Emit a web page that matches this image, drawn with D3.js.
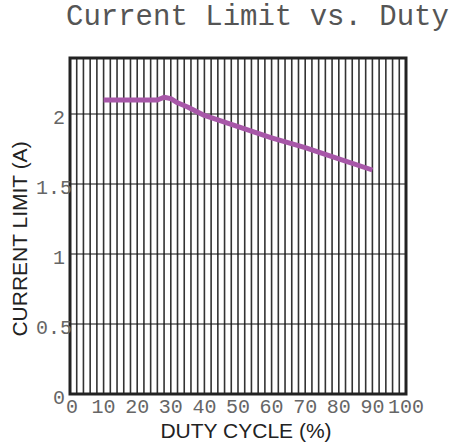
<!DOCTYPE html>
<html>
<head>
<meta charset="utf-8">
<script src="https://cdn.jsdelivr.net/npm/d3@7"></script>
<style>
  body { margin: 0; background: #fff; }
  svg { display: block; }
</style>
</head>
<body>
<svg id="chart" width="451" height="444"></svg>
<script>
var dutyCycle = [10, 20, 26, 28, 30, 32, 35, 40, 50, 60, 70, 80, 90];
var currentLimit = [2.1, 2.1, 2.1, 2.12, 2.11, 2.08, 2.05, 1.99, 1.91, 1.83, 1.76, 1.68, 1.6];
var xTicks = [0, 10, 20, 30, 40, 50, 60, 70, 80, 90, 100];
var yTicks = [0, 0.5, 1, 1.5, 2];

var width = 451,
    height = 444,
    margin = {top: 58, right: 45, bottom: 50, left: 70},
    contentWidth = width - margin.left - margin.right,
    contentHeight = height - margin.top - margin.bottom;

var svg = d3.select("#chart");

var x = d3.scaleLinear().domain([0, 100]).range([0, contentWidth]);
var y = d3.scaleLinear().domain([0, 2.4]).range([contentHeight, 0]);

var vis = svg.append("g")
  .attr("transform", "translate(" + margin.left + "," + margin.top + ")");

// title (clipped at the right edge in the original)
svg.append("text")
  .attr("x", 66)
  .attr("y", 25)
  .style("font-family", "'Liberation Mono', 'Courier New', monospace")
  .style("font-size", "29px")
  .style("fill", "#555")
  .text("Current Limit vs. Duty");

// vertical grid, every 2 %
vis.append("g").selectAll("line")
  .data(d3.range(2, 100, 2))
  .enter().append("line")
  .attr("x1", function(d) { return x(d); })
  .attr("x2", function(d) { return x(d); })
  .attr("y1", 0)
  .attr("y2", contentHeight)
  .style("stroke", "#333")
  .style("stroke-width", 1.6);

// horizontal grid
vis.append("g").selectAll("line")
  .data(yTicks.slice(1))
  .enter().append("line")
  .attr("x1", 0)
  .attr("x2", contentWidth)
  .attr("y1", function(d) { return y(d); })
  .attr("y2", function(d) { return y(d); })
  .style("stroke", "#111")
  .style("stroke-width", 1.2);

// data line
vis.append("path")
  .datum(d3.zip(dutyCycle, currentLimit))
  .attr("d", d3.line()
    .x(function(d) { return x(d[0]); })
    .y(function(d) { return y(d[1]); }))
  .style("fill", "none")
  .style("stroke", "#a757a8")
  .style("stroke-width", 5)
  .style("stroke-linejoin", "round");

// frame
vis.append("rect")
  .attr("width", contentWidth)
  .attr("height", contentHeight)
  .style("fill", "none")
  .style("stroke", "#222")
  .style("stroke-width", 3);

var tickFont = "'Liberation Mono', 'Courier New', monospace";

// y tick labels
vis.append("g").selectAll("text")
  .data(yTicks)
  .enter().append("text")
  .attr("x", function(d) { return d % 1 ? 2 : -5; })
  .attr("y", function(d) { return y(d) + 3; })
  .attr("dy", "0.35em")
  .style("text-anchor", "end")
  .style("font-family", tickFont)
  .style("font-size", "20px")
  .style("fill", "#666")
  .text(function(d) { return d; });

// x tick labels
vis.append("g").selectAll("text")
  .data(xTicks)
  .enter().append("text")
  .attr("x", function(d) { return x(d) + (d === 0 ? 2 : 0); })
  .attr("y", contentHeight + 12)
  .attr("dy", "0.35em")
  .style("text-anchor", "middle")
  .style("font-family", tickFont)
  .style("font-size", "20px")
  .style("fill", "#666")
  .text(function(d) { return d; });

// axis labels
svg.append("text")
  .attr("x", 246)
  .attr("y", 438)
  .style("text-anchor", "middle")
  .style("font-family", "'Liberation Sans', Arial, sans-serif")
  .style("font-size", "21px")
  .style("fill", "#222")
  .text("DUTY CYCLE (%)");

svg.append("text")
  .attr("transform", "rotate(-90)")
  .attr("x", -239)
  .attr("y", 27)
  .style("text-anchor", "middle")
  .style("font-family", "'Liberation Sans', Arial, sans-serif")
  .style("font-size", "21px")
  .style("fill", "#222")
  .text("CURRENT LIMIT (A)");
</script>
</body>
</html>
